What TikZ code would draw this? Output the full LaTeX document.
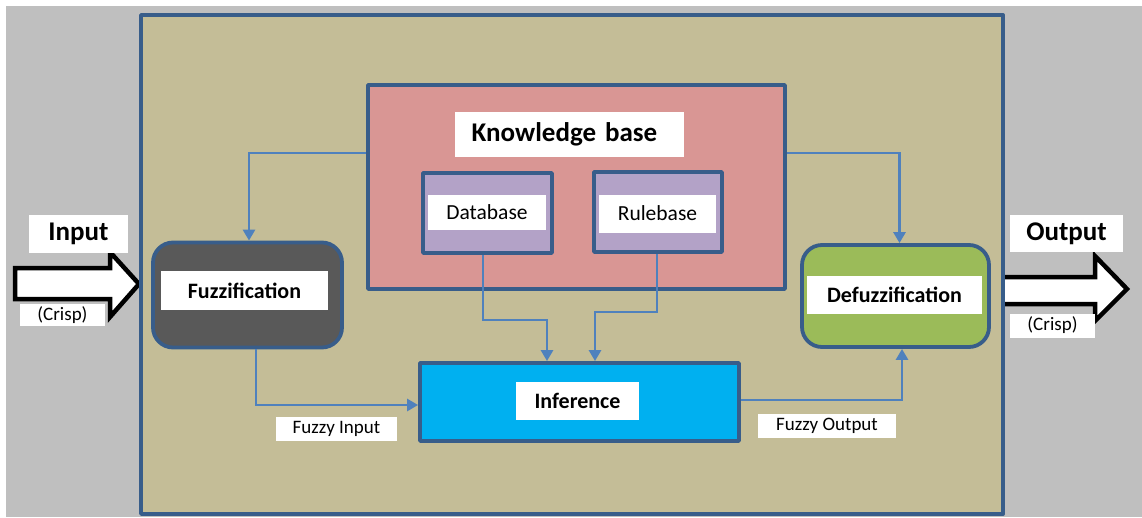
\documentclass[tikz,border=0pt]{standalone}
\usepackage{fontspec}
\setmainfont{Carlito}
\usetikzlibrary{arrows.meta}

\definecolor{bggray}{HTML}{BFBFBF}
\definecolor{tan}{HTML}{C4BD97}
\definecolor{edgeblue}{HTML}{385D8A}
\definecolor{linkblue}{HTML}{4F81BD}
\definecolor{kbrose}{HTML}{D99694}
\definecolor{lilac}{HTML}{B3A2C7}
\definecolor{darkgray}{HTML}{595959}
\definecolor{leafgreen}{HTML}{9BBB59}
\definecolor{skycyan}{HTML}{00B0F0}

\begin{document}
\begin{tikzpicture}[
  x=1pt, y=-1pt,
  block/.style={draw=edgeblue, line width=3.8pt, inner sep=0pt, line join=round},
  roundblock/.style={block, rounded corners=20pt},
  tag/.style={fill=white, inner sep=0pt, text=black},
  boldtag/.style={tag, font=\bfseries\fontsize{22}{25}\selectfont},
  plaintag/.style={tag, font=\fontsize{21.5}{24}\selectfont},
  headtag/.style={tag, font=\bfseries\fontsize{27}{30}\selectfont},
  smalltag/.style={tag, font=\fontsize{19}{22}\selectfont},
  fatarrow/.style={draw=black, fill=white, line width=4.5pt, line join=miter},
  link/.style={draw=linkblue, line width=2.7pt, -{Triangle[length=11pt,width=12pt]}}
]
\useasboundingbox (0,0) rectangle (1142,517);

% page background
\fill[bggray] (6,6) rectangle (1142,517);

% crisp input and output arrows
\path[fatarrow] (15,268) -- (110,268) -- (110,252) -- (139,284) -- (110,317)
  -- (110,299) -- (15,299) -- cycle;
\path[fatarrow] (990,277) -- (1095,277) -- (1095,256) -- (1127,289) -- (1095,321)
  -- (1095,304) -- (990,304) -- cycle;

% system frame
\node[block, fill=tan, minimum width=862pt, minimum height=499pt] (sys) at (572,264.5) {};

% knowledge base with its two stores
\node[block, fill=kbrose, minimum width=417pt, minimum height=204pt] (kb) at (576.5,187) {};
\node[headtag, minimum width=229pt, minimum height=45pt, text width=229pt, align=center] (kbl) at (569.5,134.5) {\hspace*{-10pt}Knowledge base};
\node[block, fill=lilac, minimum width=129pt, minimum height=80pt] (db) at (487.5,213) {};
\node[plaintag, minimum width=118pt, minimum height=35pt] (dbl) at (487,212.5) {Database};
\node[block, fill=lilac, minimum width=128pt, minimum height=80pt] (rb) at (658,212) {};
\node[plaintag, minimum width=117pt, minimum height=38pt] (rbl) at (657.5,213.5) {Rulebase};

% processing stages
\node[roundblock, fill=darkgray, minimum width=189pt, minimum height=105pt] (fz) at (247.5,295) {};
\node[boldtag, minimum width=167pt, minimum height=39pt] (fzl) at (244.5,290.5) {Fuzzification};
\node[roundblock, fill=leafgreen, minimum width=187pt, minimum height=102pt] (dz) at (895.5,296) {};
\node[boldtag, minimum width=175pt, minimum height=38pt] (dzl) at (894.5,295) {Defuzzification};
\node[block, fill=skycyan, minimum width=319pt, minimum height=78pt] (inf) at (579.5,402) {};
\node[boldtag, minimum width=123pt, minimum height=38pt] (infl) at (577.5,401) {Inference};

% outside labels
\node[headtag, minimum width=99pt, minimum height=38pt] (inl) at (78.5,234) {Input};
\node[smalltag, minimum width=85pt, minimum height=22pt] (incr) at (62.5,315) {(Crisp)};
\node[headtag, minimum width=113pt, minimum height=37pt] (outl) at (1066.5,233.5) {Output};
\node[smalltag, minimum width=85pt, minimum height=24pt] (outcr) at (1052.5,325.5) {(Crisp)};
\node[smalltag, minimum width=121pt, minimum height=24pt] (fil) at (336.5,429) {Fuzzy Input};
\node[smalltag, minimum width=138pt, minimum height=24pt] (fol) at (827,426) {Fuzzy Output};

% data flow
\draw[link] ([yshift=34pt]kb.west) -| ([xshift=1.5pt]fz.north);
\draw[link] ([yshift=34pt]kb.east) -| ([xshift=4pt]dz.north);
\draw[link] ([xshift=8.5pt]fz.south) |- ([yshift=-3pt]inf.west);
\draw[link] ([yshift=2pt]inf.east) -| ([xshift=6.5pt]dz.south);
\draw[link] ([xshift=-4.5pt]db.south) -- ++(0,65) -| ([xshift=-32.5pt]inf.north);
\draw[link] ([xshift=-1pt]rb.south) -- ++(0,58) -| ([xshift=15.5pt]inf.north);
\end{tikzpicture}
\end{document}
